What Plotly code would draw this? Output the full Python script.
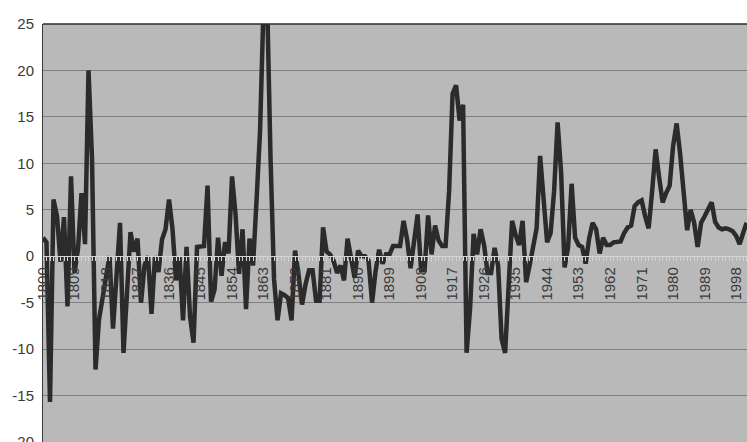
import plotly.graph_objects as go

years = list(range(1800, 2002))
values = [
    2.0, 1.5, -15.7, 6.1, 4.3, -0.6, 4.2, -5.4, 8.6, -1.8,      # 1800s
    0.8, 6.8, 1.3, 20.0, 10.5, -12.2, -6.8, -4.3, -2.5, 0.0,    # 1810s
    -7.8, -2.5, 3.6, -10.4, -2.8, 2.6, 0.5, 1.9, -5.0, -1.0,    # 1820s
    0.0, -6.2, 0.0, -1.7, 1.8, 2.9, 6.1, 2.9, -2.6, 0.0,        # 1830s
    -6.9, 1.0, -6.5, -9.3, 1.0, 1.1, 1.1, 7.6, -4.9, -3.6,      # 1840s
    2.0, -2.1, 1.5, 0.3, 8.6, 4.5, -1.9, 2.9, -5.7, 1.9,        # 1850s
    -1.0, 6.0, 13.5, 27.0, 28.0, 10.5, -2.5, -6.9, -4.0, -4.2,  # 1860s
    -4.5, -6.9, 0.6, -2.0, -5.2, -3.0, -1.5, -1.5, -4.8, -4.8,  # 1870s
    3.1, 0.5, 0.2, -0.5, -1.8, -1.0, -2.6, 1.9, -0.6, -2.3,     # 1880s
    0.6, 0.0, 0.0, -0.5, -5.0, -1.6, 0.7, -0.8, 0.2, 0.2,       # 1890s
    1.1, 1.1, 1.1, 3.8, 1.8, -1.3, 1.5, 4.5, -1.5, -1.5,        # 1900s
    4.4, 0.2, 3.3, 1.7, 1.1, 1.1, 7.0, 17.5, 18.4, 14.6,        # 1910s
    16.3, -10.4, -5.6, 2.4, 0.2, 2.9, 1.2, -1.8, -1.8, 0.9,     # 1920s
    -1.0, -8.9, -10.4, -3.0, 3.8, 2.3, 1.2, 3.8, -2.8, -1.0,    # 1930s
    0.8, 3.0, 10.8, 5.5, 1.5, 2.5, 7.0, 14.4, 9.0, -1.2,        # 1940s
    1.0, 7.8, 2.0, 1.2, 1.0, -0.8, 1.9, 3.6, 2.9, 0.3,          # 1950s
    2.0, 1.2, 1.2, 1.5, 1.5, 1.6, 2.5, 3.1, 3.3, 5.4,           # 1960s
    5.8, 6.0, 4.3, 3.0, 7.0, 11.5, 8.5, 5.8, 6.8, 7.6,          # 1970s
    11.9, 14.3, 11.0, 7.2, 2.8, 5.0, 3.6, 1.0, 3.6, 4.3,        # 1980s
    5.1, 5.8, 3.7, 3.1, 2.9, 3.0, 2.9, 2.7, 2.2, 1.3,           # 1990s
    2.5, 3.6,                                                   # 2000s
]

x_tick_years = list(range(1800, 2002, 9))
x_tick_labels = [str(y) for y in x_tick_years]
y_tick_vals = [-20, -15, -10, -5, 0, 5, 10, 15, 20, 25]
y_tick_labels = ["-20", "-15", "-10", "-5", "0", "5", "10", "15", "20", "25"]

y_min, y_max = -20, 25

fig = go.Figure(
    go.Scatter(
        x=years, y=values, mode="lines",
        line=dict(color="#2b2b2b", width=4.5),
        showlegend=False, hoverinfo="skip",
    )
)

fig.update_layout(
    width=747, height=442,
    margin=dict(l=43, r=0, t=24, b=0, autoexpand=False),
    paper_bgcolor="#ffffff",
    plot_bgcolor="#b9b9b9",
    font=dict(family="Liberation Sans, Arial, sans-serif", color="#333333"),
    xaxis=dict(
        range=[1800, 2001.1],
        anchor="free",
        position=(0 - y_min) / (y_max - y_min),
        automargin=False,
        tickmode="array",
        tickvals=x_tick_years,
        ticktext=x_tick_labels,
        tickangle=-90,
        tickfont=dict(size=15, color="#3a3a3a"),
        ticks="outside", ticklen=4, tickcolor="#d4d4d4", tickwidth=1,
        minor=dict(tick0=1800, dtick=1, ticks="outside", ticklen=4,
                   tickcolor="#d4d4d4", tickwidth=1, showgrid=False),
        showline=True, linecolor="#d4d4d4", linewidth=1,
        showgrid=False, zeroline=False,
    ),
    yaxis=dict(
        range=[y_min, y_max],
        automargin=False,
        ticklabeloverflow="allow",
        tickmode="array",
        tickvals=y_tick_vals,
        ticktext=y_tick_labels,
        tickfont=dict(size=15, color="#3a3a3a"),
        ticks="outside", ticklen=5, tickcolor="rgba(0,0,0,0)",
        showgrid=True, gridcolor="#808080", gridwidth=1,
        showline=True, linecolor="#3a3a3a", linewidth=1,
        zeroline=False,
    ),
    shapes=[
        dict(type="line", xref="paper", yref="paper", x0=0, x1=1, y0=1, y1=1,
             line=dict(color="#2e2e2e", width=1.5)),
    ],
)

fig.write_html(
    "out.html",
    config={"displayModeBar": False},
    post_script="document.body.style.margin='0';document.body.style.overflow='hidden';",
)
